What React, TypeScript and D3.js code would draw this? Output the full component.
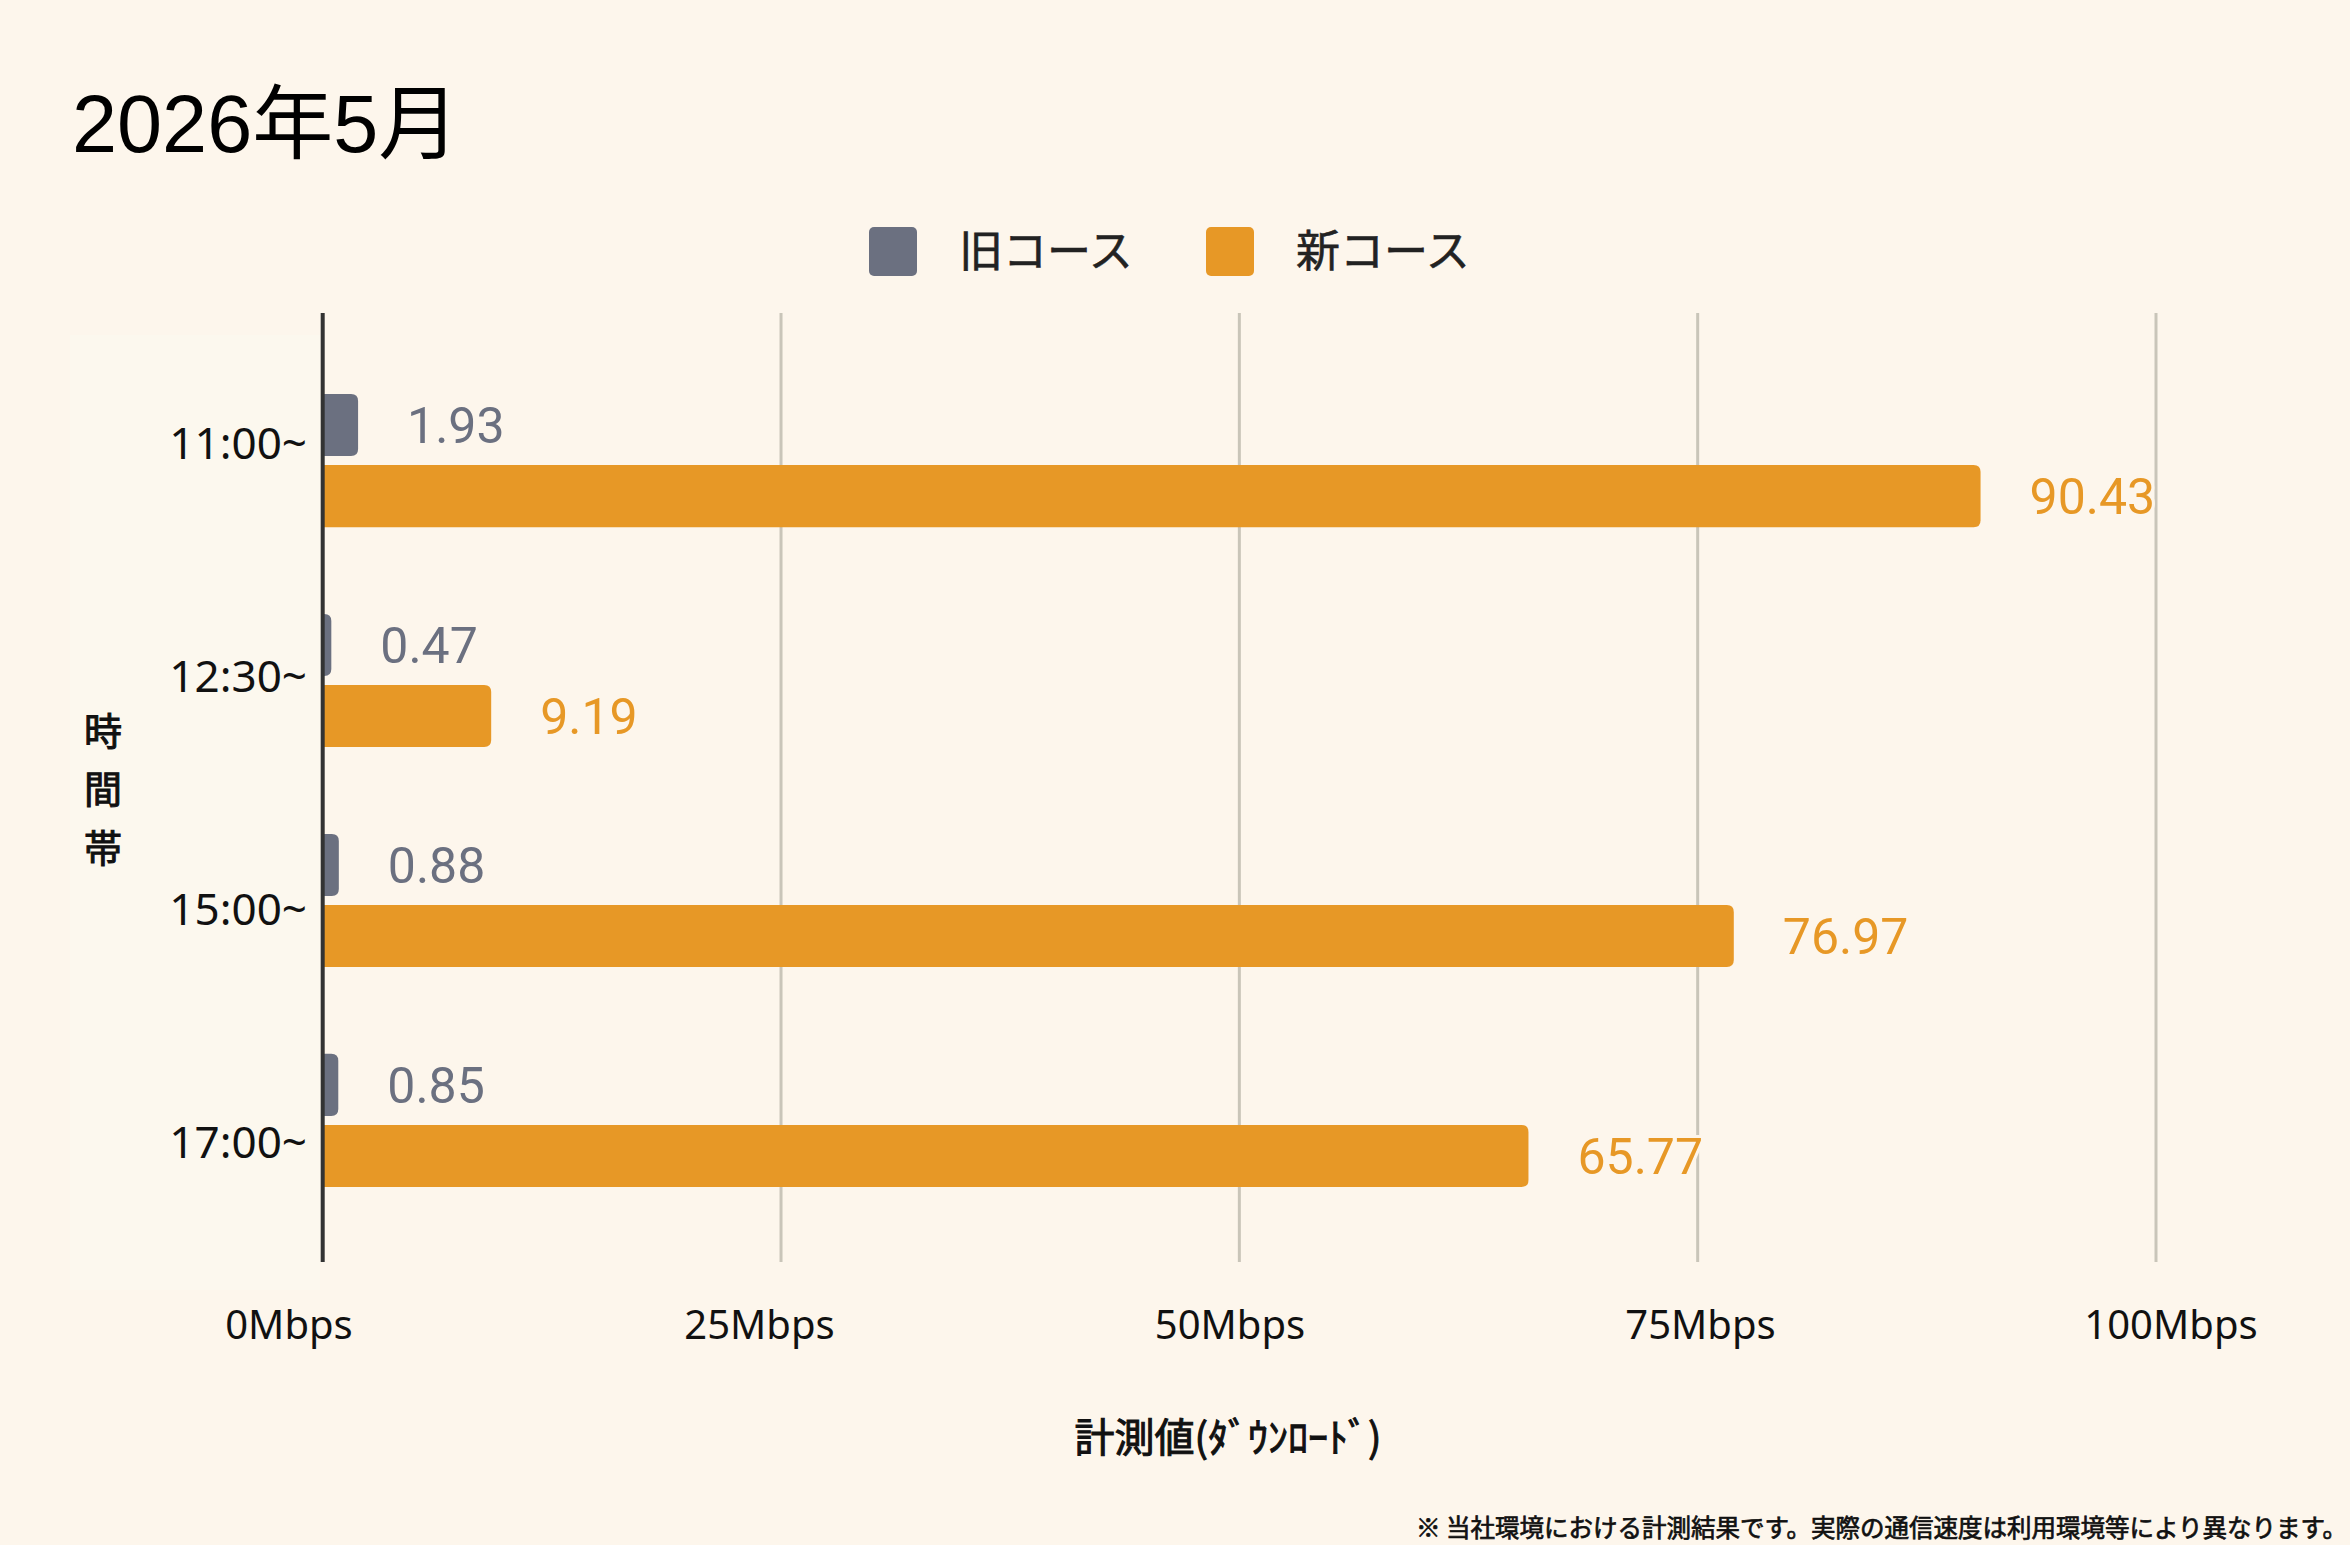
import { useEffect, useRef } from "react"
import * as d3 from "d3"

const categories = ["11:00~", "12:30~", "15:00~", "17:00~"]
const seriesNames = ["旧コース", "新コース"]
const oldCourse = [1.93, 0.47, 0.88, 0.85]
const newCourse = [90.43, 9.19, 76.97, 65.77]
const xTicks = [0, 25, 50, 75, 100]
const xTickLabels = ["0Mbps", "25Mbps", "50Mbps", "75Mbps", "100Mbps"]

const colors = ["#6b7080", "#e79826"]
const bg = "#fdf6ec"

export default function App() {
  const svgRef = useRef<SVGSVGElement>(null)

  useEffect(() => {
    if (!svgRef.current) return
    const svg = d3.select(svgRef.current)
    svg.selectAll("*").remove()

    const W = 2350
    const H = 1545
    svg.attr("width", W).attr("height", H)

    svg.append("rect").attr("width", W).attr("height", H).attr("fill", bg)
    // faint label panel behind the y axis
    svg.append("rect").attr("x", 70).attr("y", 335).attr("width", 250).attr("height", 955).attr("fill", "#fcf8ee")

    const top = 313
    const bottom = 1262

    const x = d3.scaleLinear().domain([0, 100]).range([322.7, 2156])
    const xLabel = d3.scaleLinear().domain([0, 100]).range([289, 2171])

    const y = d3.scaleBand<string>().domain(categories).range([316, 1265]).paddingInner(0.395).paddingOuter(0.355)
    const ySub = d3.scaleBand<string>().domain(["old", "new"]).range([0, y.bandwidth()]).paddingInner(0.127)
    const yLabel = d3.scalePoint<string>().domain(categories).range([443, 1142])

    // title
    svg
      .append("text")
      .attr("x", 72)
      .attr("y", 152)
      .style("font-family", "'Liberation Sans', 'Noto Sans CJK JP', sans-serif")
      .style("font-size", "81px")
      .style("fill", "#000")
      .text("2026年5月")

    // legend
    const legendItems = [
      { label: seriesNames[0], color: colors[0], x: 869 },
      { label: seriesNames[1], color: colors[1], x: 1206 },
    ]
    const lg = svg.selectAll(".legend-item").data(legendItems).enter().append("g")
    lg.append("rect")
      .attr("x", (d) => d.x)
      .attr("y", 227)
      .attr("width", 48)
      .attr("height", 49)
      .attr("rx", 5)
      .attr("fill", (d) => d.color)
    lg.append("text")
      .attr("x", (d) => d.x + 90)
      .attr("y", 251)
      .attr("dy", "0.36em")
      .style("font-family", "'Noto Sans CJK JP', sans-serif")
      .style("font-size", "44px")
      .style("fill", "#222")
      .style("stroke", "#222")
      .style("stroke-width", 0.6)
      .text((d) => d.label)

    // grid
    svg
      .selectAll(".grid-line")
      .data(xTicks.filter((d) => d > 0))
      .enter()
      .append("line")
      .attr("x1", (d) => x(d))
      .attr("x2", (d) => x(d))
      .attr("y1", top)
      .attr("y2", bottom)
      .attr("stroke", "#c9c5b9")
      .attr("stroke-width", 3)

    // bars
    const barPath = (x0: number, x1: number, y0: number, h: number) => {
      const w = Math.max(0, x1 - x0)
      const r = Math.min(7, w, h / 2)
      return `M${x0},${y0}H${x1 - r}Q${x1},${y0} ${x1},${y0 + r}V${y0 + h - r}Q${x1},${y0 + h} ${x1 - r},${y0 + h}H${x0}Z`
    }

    const rows = categories.map((c, i) => ({ cat: c, old: oldCourse[i], neu: newCourse[i] }))
    const groups = svg.selectAll(".grp").data(rows).enter().append("g")

    const series = [
      { key: "old", color: colors[0], get: (d: (typeof rows)[0]) => d.old },
      { key: "new", color: colors[1], get: (d: (typeof rows)[0]) => d.neu },
    ]

    series.forEach((s) => {
      groups
        .append("path")
        .attr("d", (d) => barPath(x(0), x(s.get(d)), (y(d.cat) as number) + (ySub(s.key) as number), ySub.bandwidth()))
        .attr("fill", s.color)
    })

    // axis line
    svg
      .append("line")
      .attr("x1", x(0))
      .attr("x2", x(0))
      .attr("y1", top)
      .attr("y2", bottom)
      .attr("stroke", "#333")
      .attr("stroke-width", 4)

    // value labels
    series.forEach((s) => {
      groups
        .append("text")
        .attr("x", (d) => x(s.get(d)) + 49)
        .attr("y", (d) => (y(d.cat) as number) + (ySub(s.key) as number) + ySub.bandwidth() / 2)
        .attr("dy", "0.36em")
        .style("font-family", "Roboto, sans-serif")
        .style("font-size", "50px")
        .style("fill", s.color)
        .style("stroke", bg)
        .style("stroke-width", 6)
        .style("paint-order", "stroke")
        .text((d) => s.get(d).toFixed(2))
    })

    // y tick labels
    svg
      .selectAll(".y-tick")
      .data(categories)
      .enter()
      .append("text")
      .attr("x", 307)
      .attr("y", (d) => yLabel(d) as number)
      .attr("dy", "0.36em")
      .attr("text-anchor", "end")
      .style("font-family", "'Noto Sans', sans-serif")
      .style("font-size", "44px")
      .style("fill", "#111")
      .text((d) => d)

    // y axis title (vertical stacked)
    const yTitle = "時間帯".split("")
    svg
      .selectAll(".y-title")
      .data(yTitle)
      .enter()
      .append("text")
      .attr("x", 103)
      .attr("y", (d, i) => 731 + i * 58.5)
      .attr("dy", "0.36em")
      .attr("text-anchor", "middle")
      .style("font-family", "'Noto Sans CJK JP', sans-serif")
      .style("font-size", "38px")
      .style("fill", "#111")
      .style("stroke", "#111")
      .style("stroke-width", 1)
      .text((d) => d)

    // x tick labels
    svg
      .selectAll(".x-tick")
      .data(xTicks)
      .enter()
      .append("text")
      .attr("x", (d) => xLabel(d))
      .attr("y", 1339)
      .attr("text-anchor", "middle")
      .style("font-family", "'Noto Sans', sans-serif")
      .style("font-size", "40px")
      .style("fill", "#111")
      .text((d, i) => xTickLabels[i])

    // x axis title
    svg
      .append("text")
      .attr("x", 1228)
      .attr("y", 1452)
      .attr("text-anchor", "middle")
      .style("font-family", "'Noto Sans CJK JP', sans-serif")
      .style("font-size", "40px")
      .style("fill", "#111")
      .style("stroke", "#111")
      .style("stroke-width", 1)
      .text("計測値(ﾀﾞｳﾝﾛｰﾄﾞ)")

    // footnote
    svg
      .append("text")
      .attr("x", 2347)
      .attr("y", 1537)
      .attr("text-anchor", "end")
      .style("font-family", "'Noto Sans CJK JP', sans-serif")
      .style("font-size", "24.5px")
      .style("fill", "#111")
      .style("stroke", "#111")
      .style("stroke-width", 0.7)
      .text("※ 当社環境における計測結果です。実際の通信速度は利用環境等により異なります。")
  }, [])

  return (
    <svg ref={svgRef} style={{ position: "absolute", left: 0, top: 0, display: "block" }}></svg>
  )
}
